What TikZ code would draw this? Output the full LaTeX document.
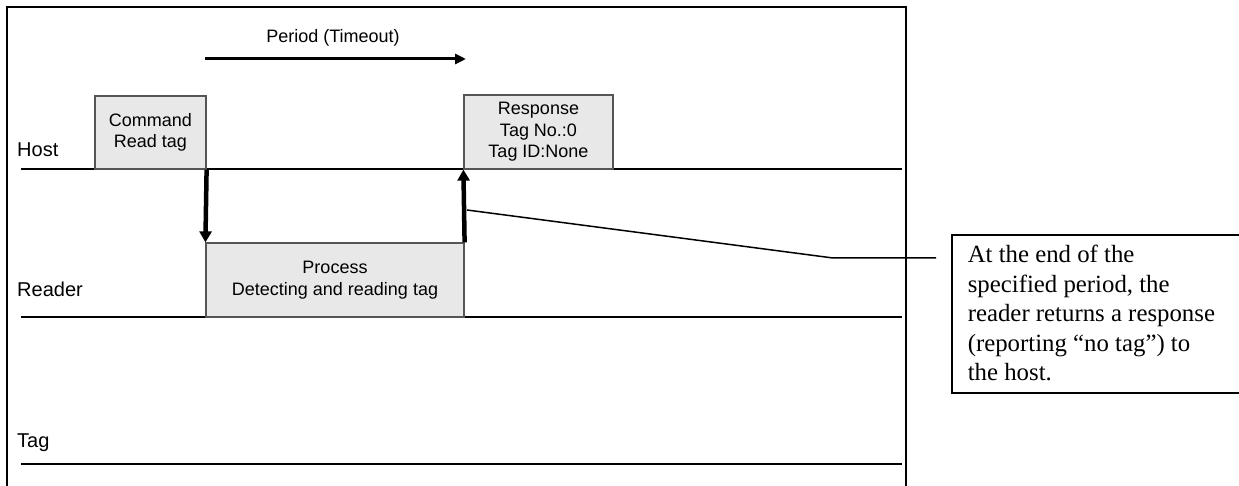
\documentclass[tikz,border=0pt]{standalone}
\usepackage{fontspec}
\setmainfont{Liberation Serif}
\setsansfont{Liberation Sans}
\usetikzlibrary{arrows.meta}
\definecolor{boxfill}{HTML}{E8E8E8}
\definecolor{boxline}{HTML}{555555}
\tikzset{
  msgbox/.style={draw=boxline, line width=1.2pt, fill=boxfill, inner sep=0pt, align=center,
    font=\sffamily\fontsize{18}{21.5}\selectfont},
  lifeline/.style={line width=2pt},
  lbl/.style={anchor=base west, inner sep=0pt, font=\sffamily\fontsize{20}{24}\selectfont},
  bigarrow/.style={line width=4.5pt, -{Triangle[length=11pt,width=12pt]}},
  periodarrow/.style={line width=3pt, -{Triangle[length=11pt,width=10pt]}},
  frameline/.style={line width=1.6pt},
  calloutline/.style={line width=1.5pt},
  notebox/.style={draw, line width=1.6pt, anchor=north west, inner xsep=16pt, inner ysep=0pt}
}
\begin{document}
\begin{tikzpicture}[x=1pt,y=-1pt]
\useasboundingbox (0,0) rectangle (1239,486);
% frame
\coordinate (fbl) at (7,500);
\coordinate (ftl) at (7,7);
\coordinate (ftr) at (906,7);
\coordinate (fbr) at (906,500);
\draw[frameline] (fbl) -- (ftl) -- (ftr) -- (fbr);
% lifelines
\coordinate (h0) at (21,169); \coordinate (h1) at (902,169);
\coordinate (r0) at (21,317); \coordinate (r1) at (902,317);
\coordinate (t0) at (21,464); \coordinate (t1) at (902,464);
\draw[lifeline] (h0) -- (h1);
\draw[lifeline] (r0) -- (r1);
\draw[lifeline, line width=2.6pt] (t0) -- (t1);
% labels
\node[lbl] (host) at (17,157) {Host};
\node[lbl] (reader) at (17,297) {Reader};
\node[lbl] (tag) at (17,447) {Tag};
% boxes
\node[msgbox, minimum width=111pt, minimum height=73pt] (cmd) at (150.5,132.5) {Command\\Read tag};
\node[msgbox, minimum width=149pt, minimum height=74pt] (resp) at (538.5,132) {Response\\Tag No.:0\\Tag ID:None};
\node[msgbox, minimum width=258pt, minimum height=74pt] (proc) at (335,280) {Process\\Detecting and reading tag};
% arrows
\draw[bigarrow] (cmd.south east) -- (proc.north west);
\draw[bigarrow] (proc.north east) -- (resp.south west);
% period
\coordinate (pa) at (205,59);
\coordinate (pb) at (466,59);
\draw[periodarrow] (pa) -- (pb);
\node[anchor=base, inner sep=0pt, font=\sffamily\fontsize{18}{21}\selectfont] (period) at (333,43) {Period (Timeout)};
% callout
\node[notebox] (note) at (951,234) {\parbox[c][158pt][t]{300pt}{\raggedright\fontsize{24.8}{29.5}\selectfont
\rule{0pt}{28pt}At the end of the\\specified period, the\\reader returns a response\\(reporting ``no tag'') to\\the host.}};
\coordinate (cs) at (467,210);
\coordinate (ck) at (833,258);
\coordinate (ce) at (936,258);
\draw[calloutline] (cs) -- (ck) -- (ce);
\end{tikzpicture}
\end{document}
